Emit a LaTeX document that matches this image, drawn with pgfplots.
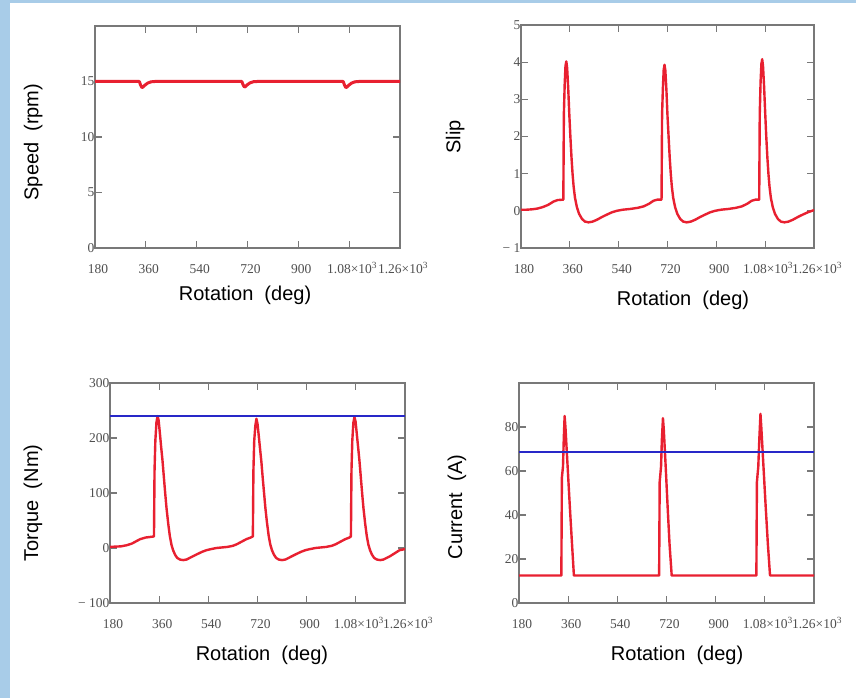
\documentclass[border=0pt]{standalone}
\usepackage{fontspec}
\setmainfont{Liberation Sans}
\newfontfamily\tickfont{Liberation Serif}
\usepackage{pgfplots}
\pgfplotsset{compat=1.18}
\definecolor{frameblue}{RGB}{168,204,232}
\definecolor{trace}{RGB}{232,32,48}
\definecolor{hline}{RGB}{40,40,200}
\definecolor{axgray}{RGB}{120,120,120}
\definecolor{tickgray}{RGB}{80,80,80}
\pgfplotsset{
  mc/.style={
    scale only axis, xmin=180, xmax=1260,
    xtick={180,360,540,720,900,1080,1260},
    xticklabels={180,360,540,720,900,1.08×10\textsuperscript{3},1.26×10\textsuperscript{3}},
    tick align=inside, major tick length=7pt,
    tick style={axgray, line width=1.1pt},
    axis line style={axgray, line width=1.6pt},
    ticklabel style={font=\tickfont\fontsize{13.5}{14}\selectfont, text=tickgray},
    xticklabel style={anchor=base, yshift=-26pt, xshift=3pt},
    yticklabel style={xshift=3pt},
    label style={font=\fontsize{20}{24}\selectfont},
    xlabel={Rotation\ \ (deg)},
    every axis plot/.append style={line width=2.4pt, line join=round},
  }
}
\begin{document}
\begin{tikzpicture}
\fill[white] (0,0) rectangle (856pt,698pt);
\fill[frameblue] (0,0) rectangle (10pt,698pt);
\fill[frameblue] (0,695pt) rectangle (856pt,698pt);

% Speed
\begin{axis}[mc, at={(95pt,450pt)}, anchor=south west, width=305pt, height=222pt,
  ymin=0, ymax=20, ytick={0,5,10,15}, yticklabels={0,5,10,15},
  ylabel={Speed\ \ (rpm)},
  ylabel style={at={(axis description cs:-0.203,0.477)}, anchor=center},
  xlabel style={at={(axis description cs:0.492,-0.212)}, anchor=center}]
\addplot[trace, line width=3pt] coordinates {
(180,15) (337,15) (341,14.7) (346,14.45) (350,14.5) (356,14.65) (366,14.85) (378,14.97) (392,15)
(700,15) (704,14.72) (709,14.5) (713,14.55) (719,14.7) (729,14.88) (741,14.98) (754,15)
(1059,15) (1063,14.7) (1068,14.45) (1072,14.5) (1078,14.65) (1088,14.85) (1100,14.97) (1114,15) (1260,15)};
\end{axis}

% Slip
\begin{axis}[mc, at={(521pt,450pt)}, anchor=south west, width=293pt, height=223pt,
  ymin=-1, ymax=5, ytick={-1,0,1,2,3,4,5}, yticklabels={− 1,0,1,2,3,4,5},
  ylabel={Slip},
  ylabel style={at={(axis description cs:-0.225,0.498)}, anchor=center},
  xlabel style={at={(axis description cs:0.553,-0.233)}, anchor=center}]
\addplot[trace] coordinates {
(180,0.03) (200,0.03) (220,0.04) (240,0.06) (260,0.1) (280,0.16) (300,0.25) (315,0.29) (336,0.3)
(338,2.6) (341,3.4) (344,3.9) (347,4.02) (350,3.85) (354,3.3) (358,2.6) (362,2.0) (366,1.45)
(370,1.0) (374,0.65) (379,0.35) (386,0.1) (394,-0.08) (405,-0.22) (416,-0.29) (429,-0.31)
(444,-0.29) (460,-0.24) (480,-0.16) (497,-0.1) (515,-0.04) (533,0.0) (555,0.03) (582,0.05)
(610,0.08) (632,0.12) (652,0.19) (668,0.27) (682,0.3) (698,0.3)
(700,2.6) (703,3.3) (706,3.8) (709,3.93) (712,3.78) (716,3.25) (720,2.55) (724,2.0) (728,1.45)
(732,1.0) (736,0.65) (741,0.35) (748,0.1) (756,-0.08) (767,-0.22) (778,-0.29) (791,-0.31)
(806,-0.29) (822,-0.24) (842,-0.16) (859,-0.1) (877,-0.04) (895,0.0) (917,0.03) (944,0.05)
(972,0.08) (994,0.12) (1014,0.19) (1030,0.27) (1044,0.3) (1058,0.3)
(1060,2.6) (1063,3.45) (1066,3.95) (1069,4.08) (1072,3.9) (1076,3.35) (1080,2.65) (1084,2.0)
(1088,1.45) (1092,1.0) (1096,0.65) (1101,0.35) (1108,0.1) (1116,-0.08) (1127,-0.22) (1138,-0.29)
(1151,-0.31) (1166,-0.29) (1182,-0.24) (1202,-0.16) (1219,-0.1) (1237,-0.04) (1260,0.02)};
\end{axis}

% Torque
\begin{axis}[mc, at={(110pt,95pt)}, anchor=south west, width=295pt, height=220pt,
  ymin=-100, ymax=300, ytick={-100,0,100,200,300}, yticklabels={− 100,0,100,200,300},
  ylabel={Torque\ \ (Nm)},
  ylabel style={at={(axis description cs:-0.261,0.455)}, anchor=center},
  xlabel style={at={(axis description cs:0.515,-0.236)}, anchor=center}]
\addplot[trace] coordinates {
(180,2) (200,2.5) (220,3) (241,5) (260,8) (275,12) (290,16) (310,19) (326,20) (341,21)
(343,140) (346,195) (350,228) (354,240) (358,232) (362,212) (367,185) (372,160) (377,130)
(382,100) (387,72) (393,45) (399,22) (405,6) (411,-4) (418,-12) (426,-18) (436,-21) (448,-22)
(460,-21) (472,-18) (484,-15) (500,-11) (517,-7) (533,-4) (550,-2) (570,0) (590,1) (610,2)
(630,4) (645,7) (660,11) (679,16) (695,19) (703,21)
(705,140) (708,195) (712,222) (716,235) (720,226) (724,207) (729,182) (734,158) (739,128)
(744,100) (749,72) (755,45) (761,22) (767,6) (773,-4) (780,-12) (788,-18) (798,-21) (810,-22)
(822,-21) (834,-18) (846,-15) (862,-11) (879,-7) (895,-4) (912,-2) (932,0) (952,1) (972,2)
(992,4) (1007,7) (1022,11) (1041,16) (1056,19) (1062,21)
(1064,140) (1067,195) (1071,228) (1075,238) (1079,230) (1083,210) (1088,185) (1093,160) (1098,130)
(1103,100) (1108,72) (1114,45) (1120,22) (1126,6) (1132,-4) (1139,-12) (1147,-18) (1157,-21)
(1169,-22) (1181,-21) (1193,-18) (1205,-15) (1221,-10) (1240,-4) (1260,-2)};
\addplot[hline, line width=1.8pt] coordinates {(180,240) (1260,240)};
\end{axis}

% Current
\begin{axis}[mc, at={(519pt,95pt)}, anchor=south west, width=295pt, height=220pt,
  ymin=0, ymax=100, ytick={0,20,40,60,80}, yticklabels={0,20,40,60,80},
  ylabel={Current\ \ (A)},
  ylabel style={at={(axis description cs:-0.210,0.436)}, anchor=center},
  xlabel style={at={(axis description cs:0.536,-0.236)}, anchor=center}]
\addplot[trace] coordinates {
(180,12.5) (335,12.5) (337,57) (341,62) (344,75) (347,85) (350,80) (358,62) (366,44) (374,27) (381,12.5)
(693,12.5) (695,55) (700,62) (703,74) (707,84) (710,79) (717,62) (724,44) (731,27) (739,12.5)
(1049,12.5) (1051,55) (1056,62) (1060,75) (1064,86) (1067,80) (1075,62) (1083,44) (1091,27) (1099,12.5)
(1260,12.5)};
\addplot[hline, line width=1.8pt] coordinates {(180,68.5) (1260,68.5)};
\end{axis}
\pgfresetboundingbox
\useasboundingbox (0,0) rectangle (856pt,698pt);
\end{tikzpicture}
\end{document}
